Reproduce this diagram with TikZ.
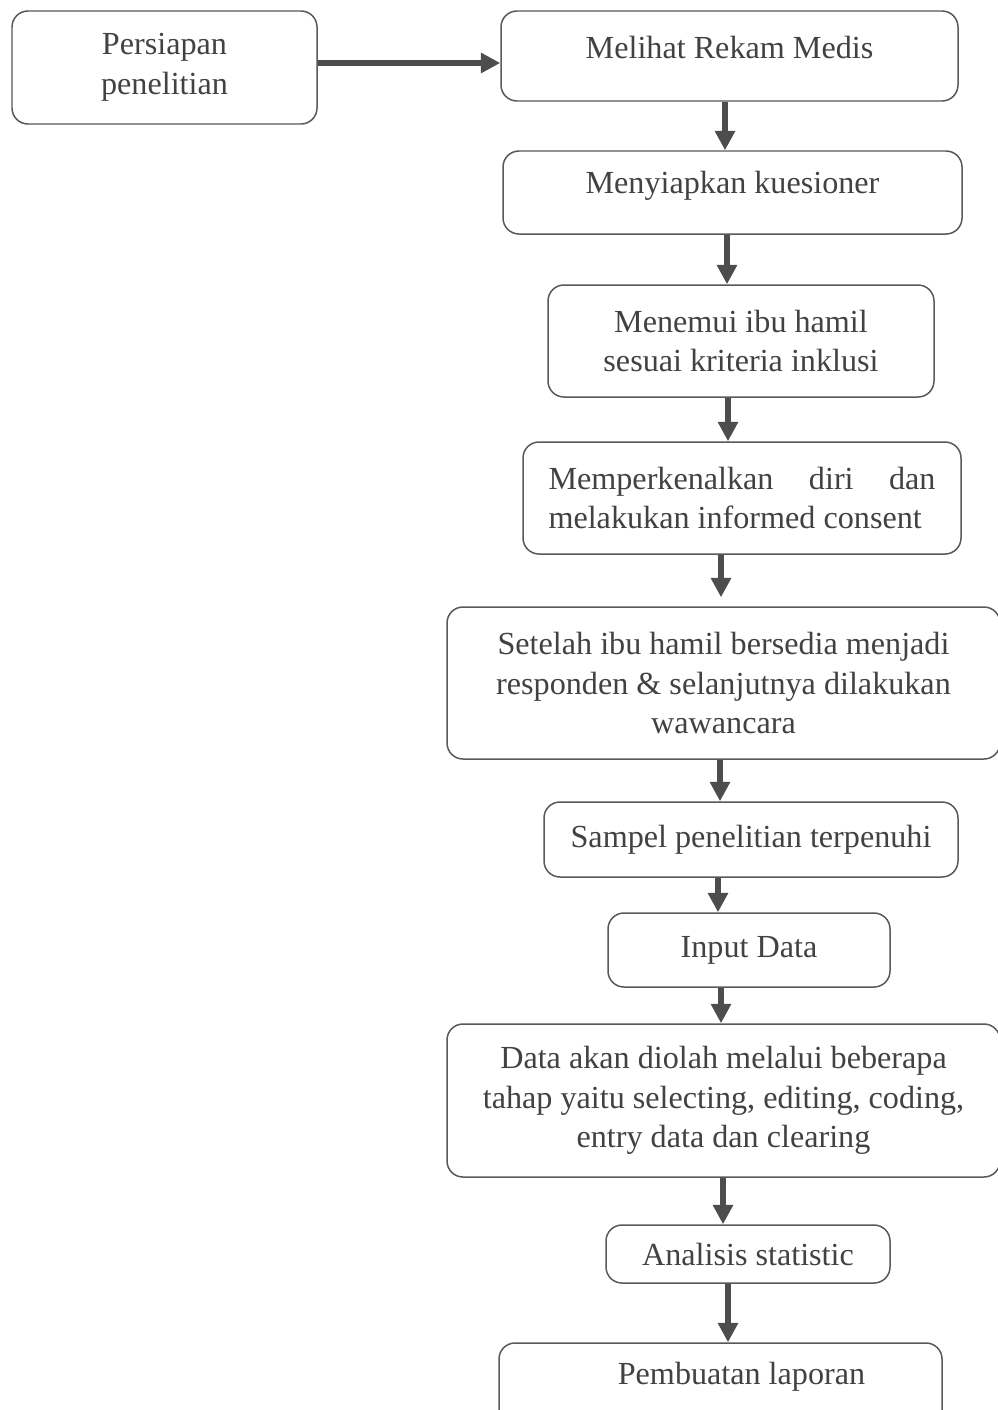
\documentclass[tikz,border=0pt]{standalone}
\usepackage{fontspec}
\setmainfont{Liberation Serif}
\usetikzlibrary{arrows.meta, positioning, calc}

\definecolor{boxgray}{HTML}{595959}
\definecolor{arrgray}{HTML}{4D4D4D}
\definecolor{txtgray}{HTML}{424242}

\begin{document}
\begin{tikzpicture}[
    % Define the box and arrow styles of the flow chart
    proc_node/.style={rectangle, rounded corners=0.32cm, draw=boxgray, line width=0.85pt,
        text=txtgray, font=\fontsize{18.3}{22.5}\selectfont, align=center, inner sep=2pt},
    flow_arr/.style={draw=arrgray, line width=3.4pt, -{Triangle[length=11pt, width=11pt]}}
]

    % Page frame (same proportions as the scan)
    \path[use as bounding box, fill=white] (0,0) rectangle (19.94,-28.2);

    % --- Left start box ---
    \node[proc_node, minimum width=6.1cm, minimum height=2.26cm] (prep) at (3.29,-1.35) {Persiapan\\penelitian};

    % --- Right column, top to bottom ---
    \node[proc_node, minimum width=9.14cm, minimum height=1.8cm, text depth=0.36cm] (rekam) at (14.59,-1.12) {Melihat Rekam Medis};
    \node[proc_node, minimum width=9.18cm, minimum height=1.66cm, text depth=0.4cm] (kues) at (14.65,-3.85) {Menyiapkan kuesioner};
    \node[proc_node, minimum width=7.72cm, minimum height=2.24cm] (temu) at (14.82,-6.82) {Menemui ibu hamil\\sesuai kriteria inklusi};
    \node[proc_node, minimum width=8.76cm, minimum height=2.24cm, text width=7.74cm, align=justify] (kenal) at (14.84,-9.96) {Memperkenalkan diri dan\linebreak melakukan informed consent};
    \node[proc_node, minimum width=11.06cm, minimum height=3.04cm] (setuju) at (14.47,-13.66) {Setelah ibu hamil bersedia menjadi\\responden \& selanjutnya dilakukan\\wawancara};
    \node[proc_node, minimum width=8.28cm, minimum height=1.5cm] (sampel) at (15.02,-16.79) {Sampel penelitian terpenuhi};
    \node[proc_node, minimum width=5.64cm, minimum height=1.48cm] (input) at (14.98,-19.0) {Input Data};
    \node[proc_node, minimum width=11.06cm, minimum height=3.06cm] (olah) at (14.47,-22.01) {Data akan diolah melalui beberapa\\tahap yaitu selecting, editing, coding,\\entry data dan clearing};
    \node[proc_node, minimum width=5.68cm, minimum height=1.16cm] (anal) at (14.96,-25.08) {Analisis statistic};
    % bottom edge runs off the page
    \node[proc_node, minimum width=8.86cm, minimum height=1.74cm, text depth=0.54cm] (lapor) at (14.41,-27.73) {\hspace*{0.84cm}Pembuatan laporan};

    % --- Connectors ---
    \draw[flow_arr] (prep.east |- 0,-1.26) -- (rekam.west |- 0,-1.26);

    \foreach \a/\b/\x/\gap in {rekam/kues/14.5/0, kues/temu/14.54/0, temu/kenal/14.56/0,
        kenal/setuju/14.42/0.18, setuju/sampel/14.4/0, sampel/input/14.36/0,
        input/olah/14.42/0, olah/anal/14.46/0, anal/lapor/14.56/0} {
        \draw[flow_arr, shorten >=\gap cm] (\a.south -| \x,0) -- (\b.north -| \x,0);
    }

\end{tikzpicture}
\end{document}
